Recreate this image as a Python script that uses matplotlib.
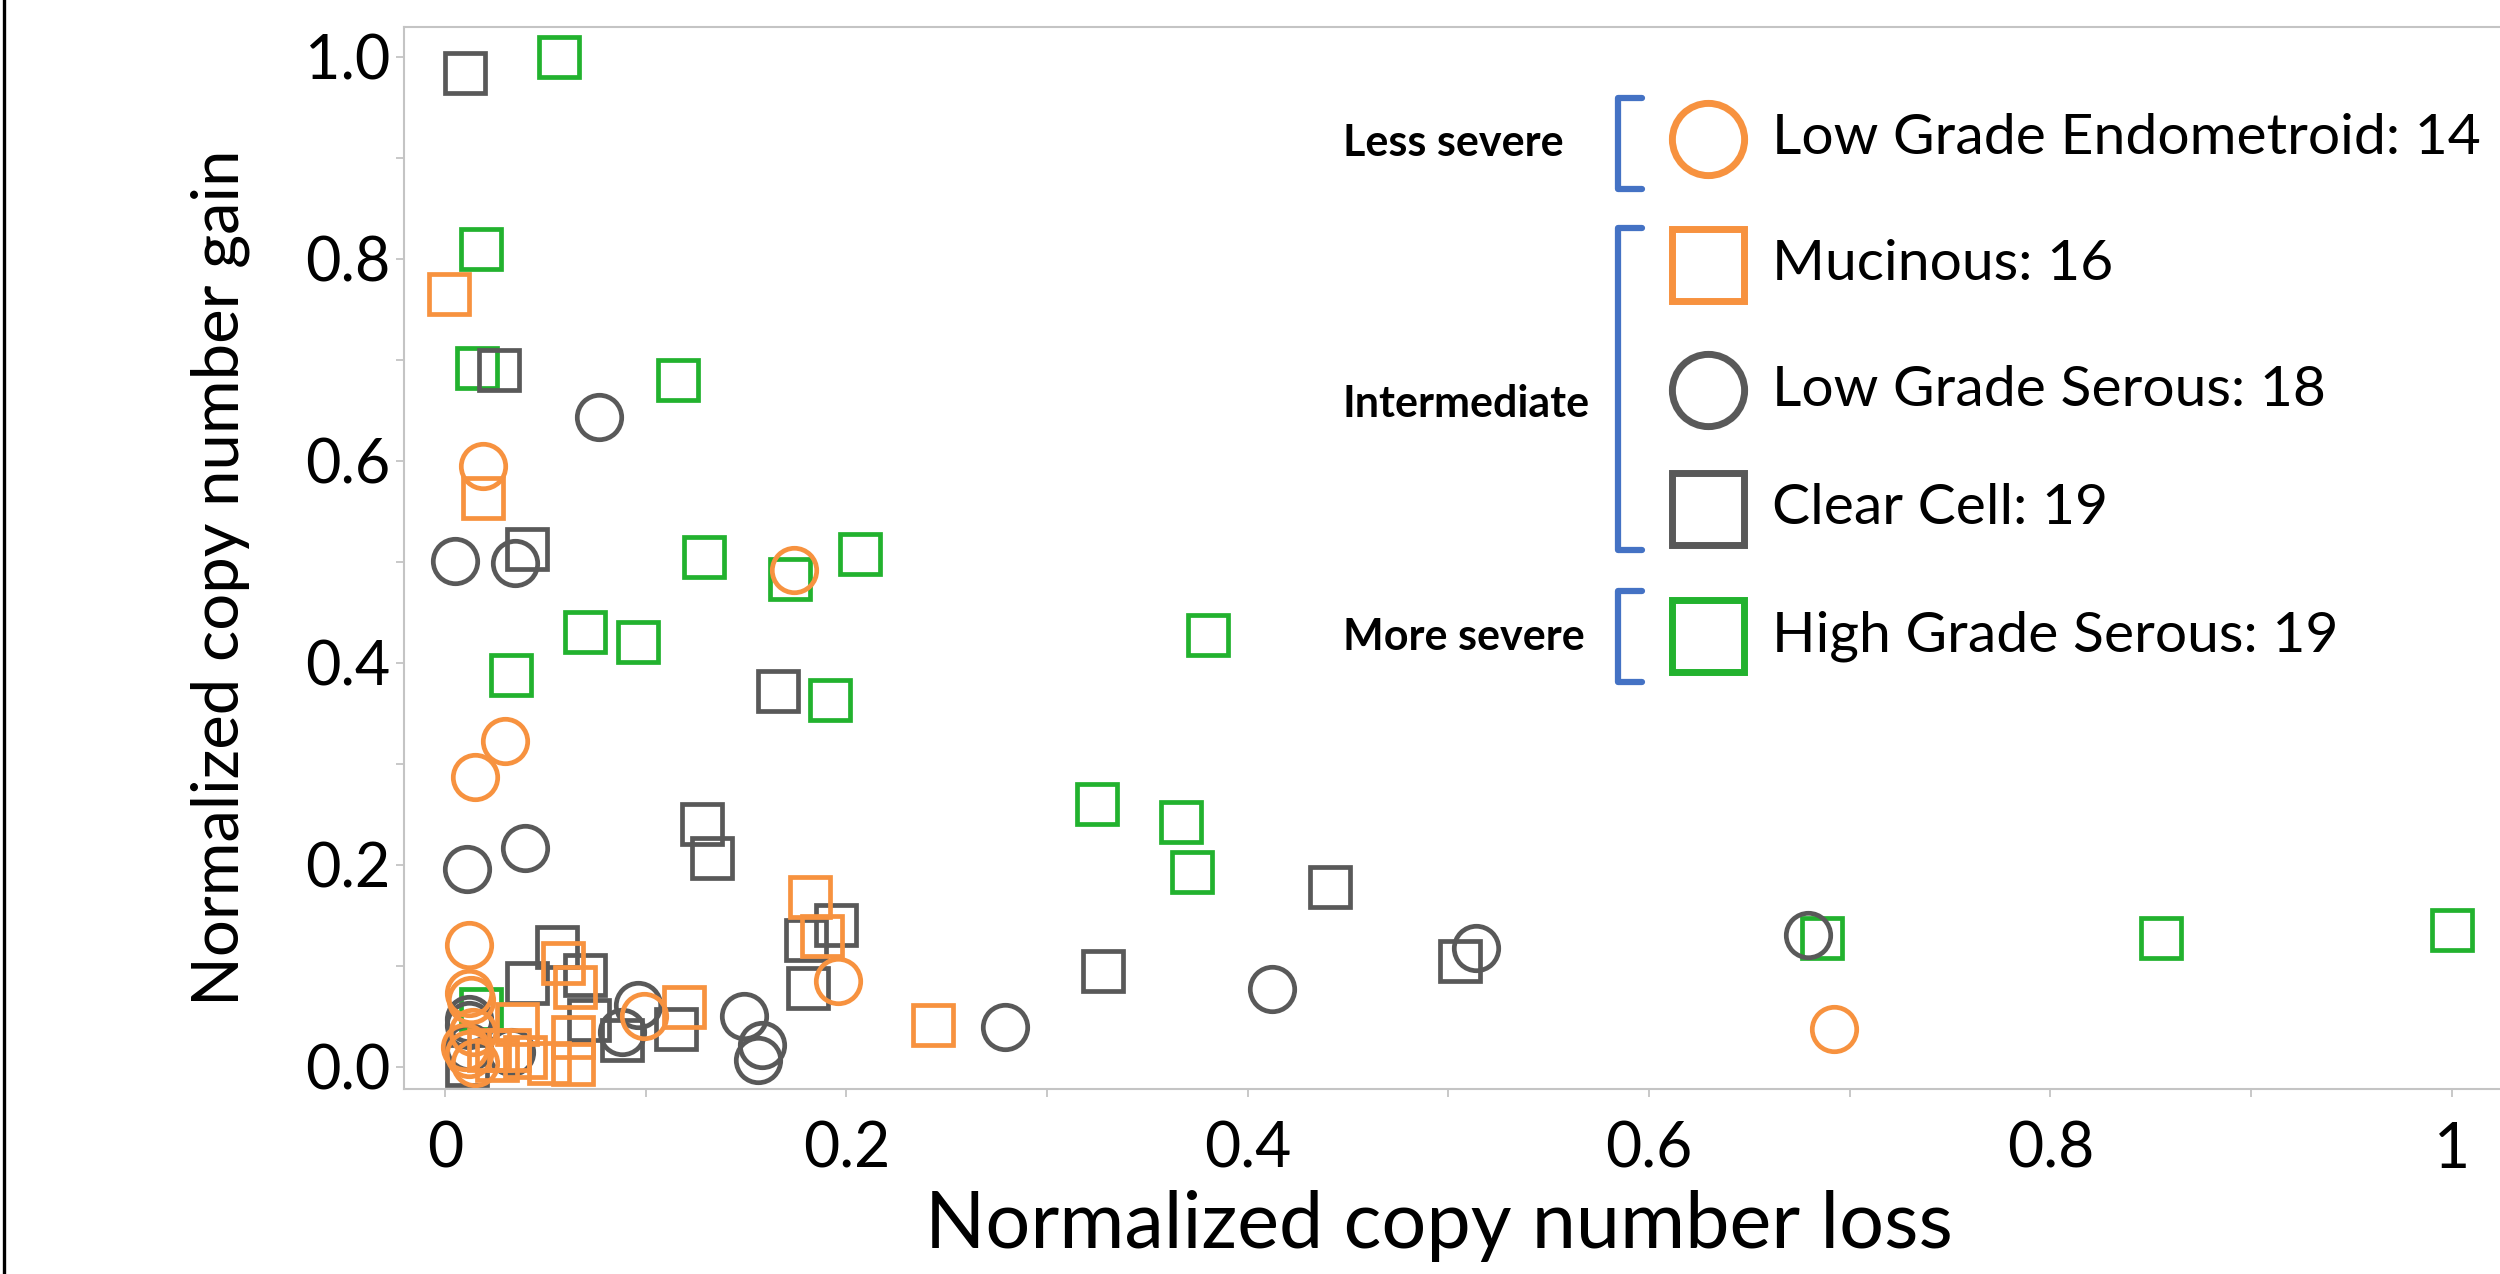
import matplotlib
matplotlib.use('Agg')
import matplotlib.pyplot as plt
from matplotlib.lines import Line2D

plt.rcParams['font.family'] = ['Lato', 'DejaVu Sans']

# Low Grade Endometroid (orange circles)
lge_loss = [0.019, 0.174, 0.030, 0.015, 0.012, 0.196, 0.099, 0.692, 0.012, 0.013, 0.010, 0.012, 0.015, 0.014]
lge_gain = [0.595, 0.492, 0.323, 0.287, 0.121, 0.085, 0.050, 0.038, 0.073, 0.066, 0.020, 0.013, 0.004, 0.035]

# Mucinous (orange squares)
muc_loss = [0.002, 0.019, 0.059, 0.065, 0.182, 0.188, 0.119, 0.243, 0.052, 0.064, 0.064, 0.036, 0.032, 0.026, 0.022, 0.040]
muc_gain = [0.765, 0.563, 0.103, 0.079, 0.168, 0.130, 0.059, 0.042, 0.004, 0.003, 0.030, 0.043, 0.017, 0.007, 0.017, 0.010]

# Low Grade Serous (gray circles)
lgs_loss = [0.077, 0.005, 0.035, 0.011, 0.040, 0.412, 0.514, 0.679, 0.096, 0.088, 0.149, 0.158, 0.156, 0.279, 0.012, 0.012, 0.012, 0.033]
lgs_gain = [0.644, 0.501, 0.499, 0.196, 0.217, 0.077, 0.118, 0.131, 0.061, 0.035, 0.050, 0.022, 0.007, 0.040, 0.048, 0.042, 0.020, 0.015]

# Clear Cell (gray squares)
cc_loss = [0.010, 0.027, 0.041, 0.166, 0.128, 0.133, 0.441, 0.328, 0.506, 0.056, 0.041, 0.070, 0.195, 0.180, 0.181, 0.088, 0.115, 0.072, 0.011]
cc_gain = [0.984, 0.690, 0.513, 0.372, 0.241, 0.207, 0.178, 0.095, 0.105, 0.119, 0.083, 0.091, 0.141, 0.126, 0.078, 0.027, 0.038, 0.047, 0.002]

# High Grade Serous (green squares)
hgs_loss = [0.057, 0.018, 0.016, 0.116, 0.129, 0.172, 0.207, 0.070, 0.096, 0.033, 0.192, 0.325, 0.367, 0.372, 0.686, 0.855, 1.000, 0.018, 0.380]
hgs_gain = [1.000, 0.810, 0.692, 0.680, 0.505, 0.483, 0.508, 0.431, 0.421, 0.388, 0.363, 0.260, 0.243, 0.193, 0.128, 0.128, 0.136, 0.057, 0.428]

labels = ['Low Grade Endometroid: 14', 'Mucinous: 16', 'Low Grade Serous: 18',
          'Clear Cell: 19', 'High Grade Serous: 19']
groups = ['Less severe', 'Intermediate', 'More severe']

xticks = [0, 0.2, 0.4, 0.6, 0.8, 1.0]
xticklabels = ['0', '0.2', '0.4', '0.6', '0.8', '1']
yticks = [0, 0.2, 0.4, 0.6, 0.8, 1.0]
yticklabels = ['0.0', '0.2', '0.4', '0.6', '0.8', '1.0']

ORANGE = '#F7923F'
GRAY = '#595959'
GREEN = '#22B22E'
BLUE = '#4472C4'

W, H = 2500, 1274


def fx(px):
    return px / W


def fy(py):
    return 1 - py / H


fig = plt.figure(figsize=(25, 12.74), dpi=100)
ax = fig.add_axes([fx(404), fy(1089), 1 - fx(404), fy(27) - fy(1089)])

series = [
    (hgs_loss, hgs_gain, 's', GREEN, 29),
    (cc_loss, cc_gain, 's', GRAY, 29),
    (lgs_loss, lgs_gain, 'o', GRAY, 32),
    (muc_loss, muc_gain, 's', ORANGE, 29),
    (lge_loss, lge_gain, 'o', ORANGE, 32),
]
for xs, ys, m, c, ms in series:
    ax.plot(xs, ys, linestyle='none', marker=m, ms=ms, mfc='none', mec=c, mew=3.4)

ax.set_xlim(-0.0204, 1.024)
ax.set_ylim(-0.0218, 1.0297)

for s in ['left', 'bottom', 'top']:
    ax.spines[s].set_color('#c4c4c4')
    ax.spines[s].set_linewidth(1.5)
ax.spines['right'].set_visible(False)

ax.set_xticks(xticks)
ax.set_xticklabels(xticklabels)
ax.set_xticks([0.1, 0.3, 0.5, 0.7, 0.9], minor=True)
ax.set_yticks(yticks)
ax.set_yticklabels(yticklabels)
ax.set_yticks([0.1, 0.3, 0.5, 0.7, 0.9], minor=True)
ax.tick_params(which='both', direction='out', length=6, width=1.3, color='#c4c4c4')
ax.tick_params(axis='x', which='major', labelsize=45, pad=17)
ax.tick_params(axis='y', which='major', labelsize=44, pad=4)

ax.set_xlabel('Normalized copy number loss', fontsize=57, va='center')
ax.xaxis.set_label_coords((1439 - 404) / 2096, -(1226 - 1089) / 1062)
ax.set_ylabel('Normalized copy number gain', fontsize=47, va='center')
ax.yaxis.set_label_coords(-(404 - 220) / 2096, (1089 - 578) / 1062)

# legend
leg_y = [139, 265, 390, 509, 636]
leg_m = ['o', 's', 'o', 's', 's']
leg_c = [ORANGE, ORANGE, GRAY, GRAY, GREEN]
for yy, m, c, lab in zip(leg_y, leg_m, leg_c, labels):
    fig.add_artist(Line2D([fx(1708)], [fy(yy)], marker=m, ms=52, mfc='none', mec=c, mew=5))
    fig.text(fx(1772), fy(yy), lab, fontsize=41, ha='left', va='center')

brackets = [(98, 189), (228, 550), (591, 682)]
group_y = [143, 404, 637]
for (y0, y1), gy, g in zip(brackets, group_y, groups):
    fig.add_artist(Line2D([fx(1642), fx(1618), fx(1618), fx(1642)],
                          [fy(y0), fy(y0), fy(y1), fy(y1)],
                          color=BLUE, lw=4.5, solid_joinstyle='round', solid_capstyle='round'))
    fig.text(fx(1343), fy(gy), g, fontsize=31, fontweight='bold', ha='left', va='center')

# left frame line
fig.add_artist(Line2D([fx(4), fx(4)], [0, 1], color='black', lw=2.4))

fig.savefig('out.png', dpi=100)
